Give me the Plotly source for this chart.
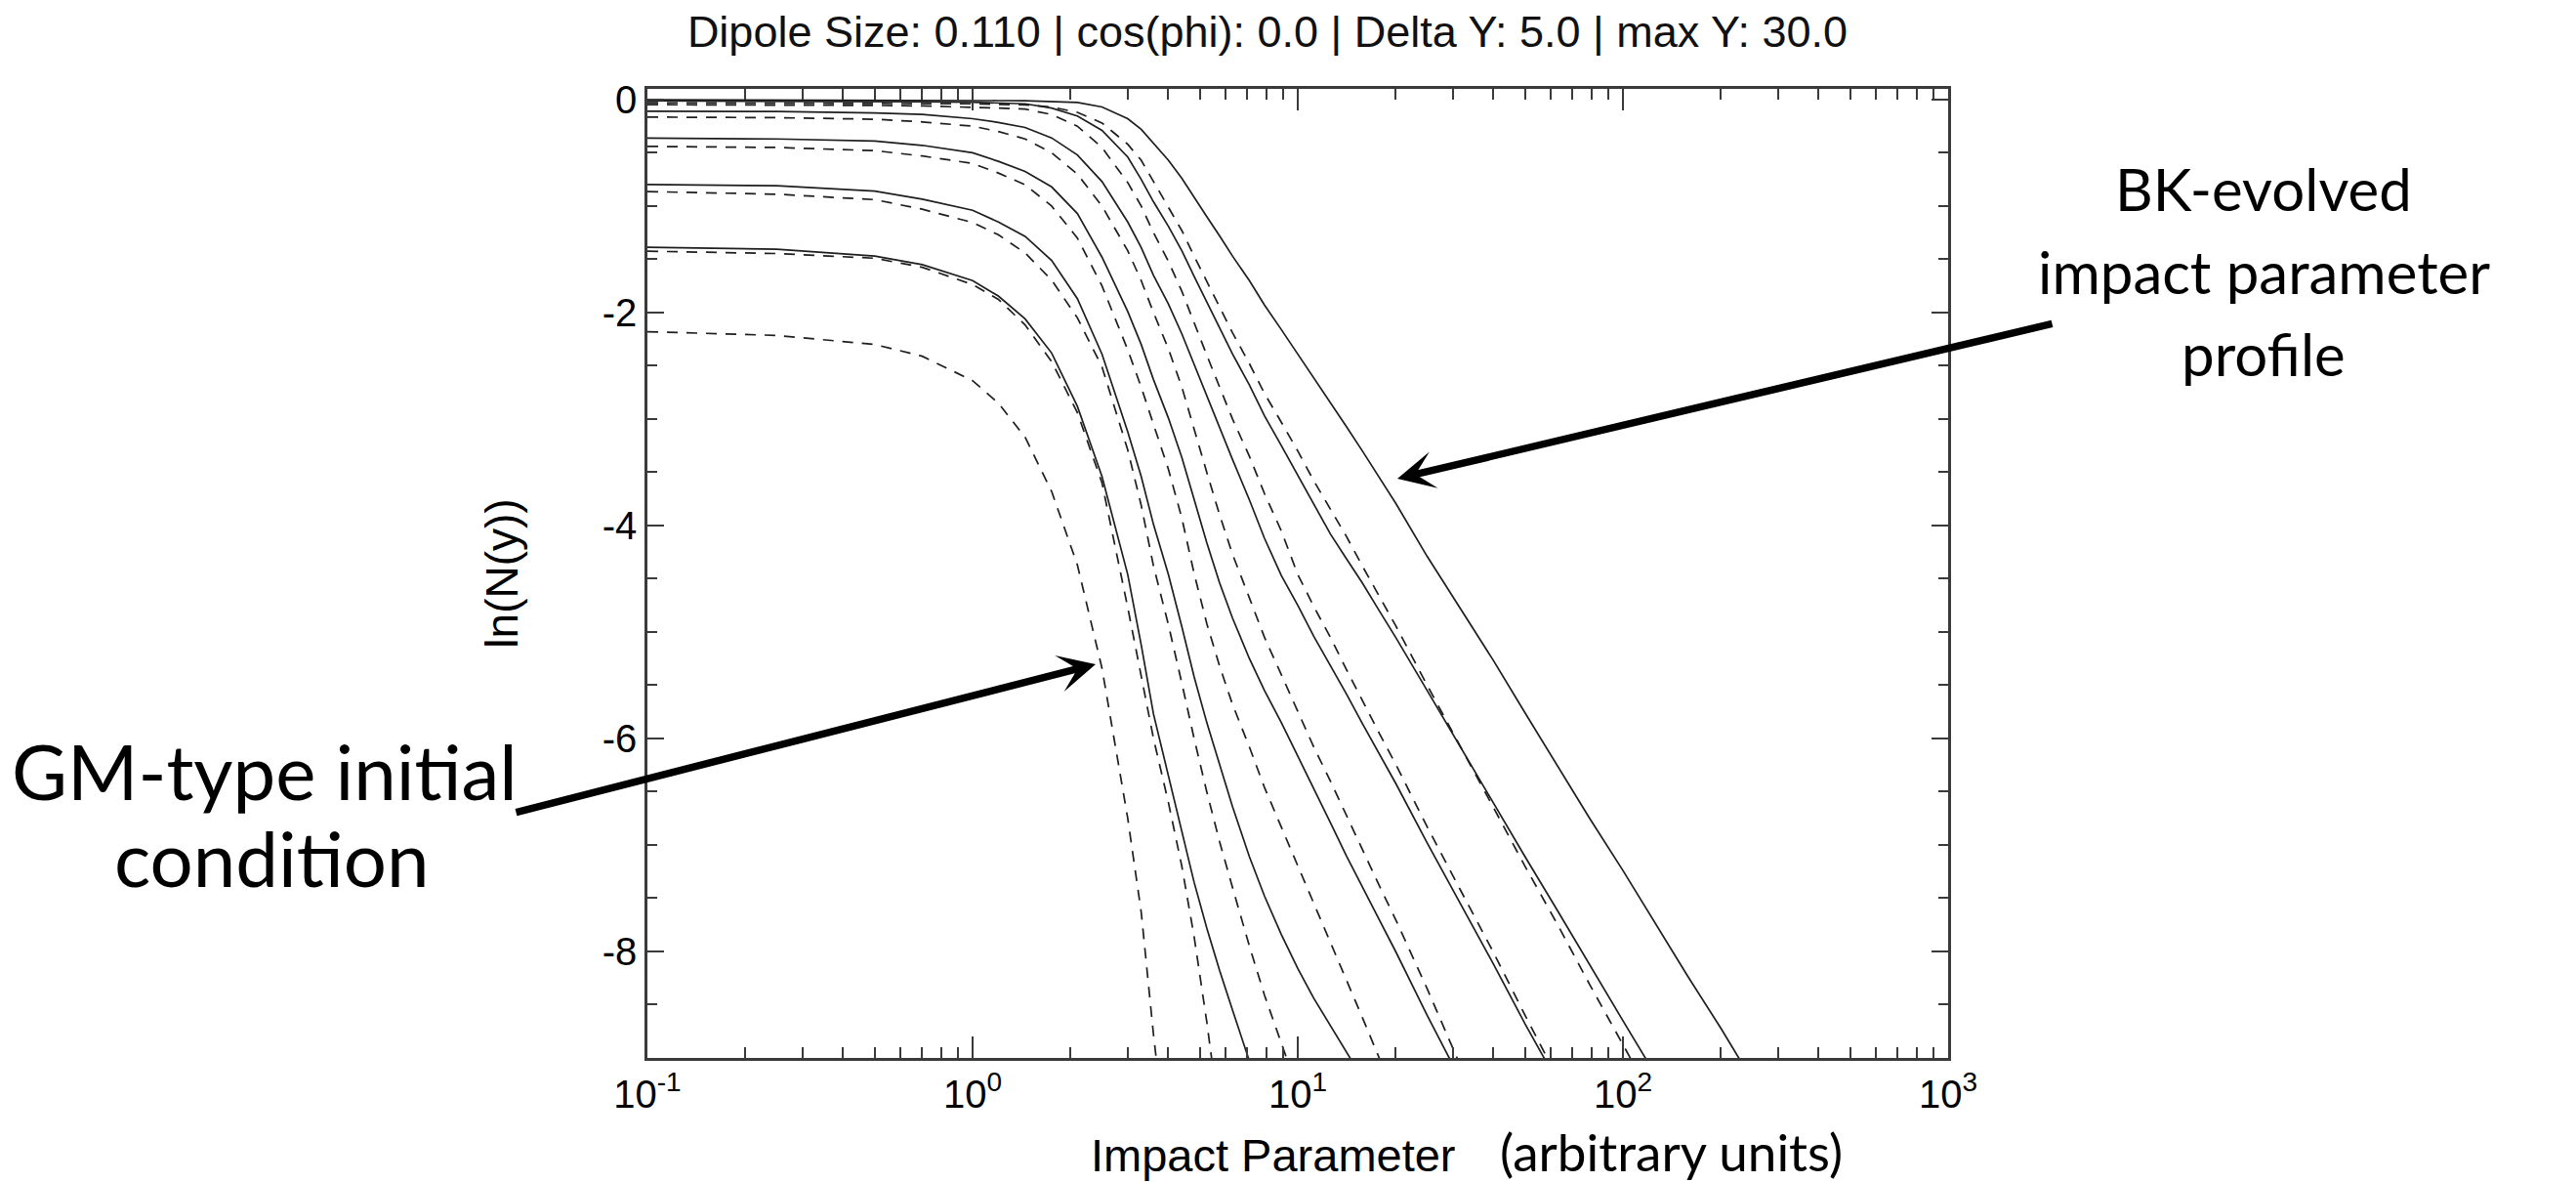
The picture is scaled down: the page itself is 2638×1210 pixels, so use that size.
import plotly.graph_objects as go

# ---------------- data ----------------
# impact parameter grid (arbitrary units)
b = [0.1, 0.25, 0.5, 0.7, 1.0, 1.2, 1.45, 1.75, 2.1, 2.5, 3.0, 3.3, 3.6, 4.0, 4.4,
     4.8, 5.25, 5.75, 6.3, 7.1, 7.9, 8.9, 10, 11.2, 12.6, 14.1, 15.8, 17.8, 20, 25,
     31.6, 40, 50, 63, 79, 100, 126, 158, 200, 251]

# ln(N(y)) - dashed family (Y = 0 ... 30), Y=0 is the GM-type initial condition
dash_y0 = [-2.18, -2.215, -2.30, -2.41, -2.64, -2.85, -3.17, -3.68, -4.37, -5.34, -6.75, -7.63, -8.78, -10.0]
dash_y5 = [-1.424, -1.446, -1.49, -1.575, -1.737, -1.876, -2.116, -2.46, -2.94, -3.60, -4.77, -5.4, -6.0, -6.6,
           -7.2, -7.86, -8.66, -9.57]
dash_y10 = [-0.864, -0.889, -0.94, -1.03, -1.155, -1.27, -1.44, -1.695, -2.05, -2.51, -3.29, -3.81, -4.38, -4.93,
            -5.48, -6.0, -6.5, -6.97, -7.4, -7.95, -8.41, -8.85, -9.3]
dash_y15 = [-0.44, -0.45, -0.48, -0.53, -0.60, -0.69, -0.80, -1.0, -1.3, -1.75, -2.35, -2.7, -3.05, -3.47, -3.93,
            -4.45, -4.92, -5.32, -5.68, -6.08, -6.46, -6.83, -7.2, -7.55, -7.9, -8.25, -8.62, -9.0, -9.38]
dash_y20 = [-0.165, -0.17, -0.185, -0.21, -0.25, -0.30, -0.37, -0.5, -0.7, -1.0, -1.42, -1.7, -2.0, -2.34, -2.7,
            -3.1, -3.5, -3.9, -4.27, -4.68, -5.05, -5.4, -5.75, -6.08, -6.4, -6.72, -7.05, -7.38, -7.7, -8.35, -9.07]
dash_y25 = [-0.048, -0.05, -0.055, -0.06, -0.07, -0.08, -0.09, -0.14, -0.25, -0.45, -0.78, -1.0, -1.25, -1.52, -1.8,
            -2.1, -2.4, -2.7, -3.0, -3.35, -3.7, -4.05, -4.46, -4.76, -5.05, -5.35, -5.65, -5.95, -6.24, -6.83,
            -7.42, -8.01, -8.6, -9.19]
dash_y30 = [-0.03, -0.032, -0.035, -0.037, -0.04, -0.045, -0.05, -0.07, -0.12, -0.22, -0.42, -0.57, -0.77, -1.0,
            -1.23, -1.47, -1.71, -1.96, -2.19, -2.48, -2.76, -3.03, -3.3, -3.58, -3.84, -4.1, -4.38, -4.66, -4.94,
            -5.5, -6.08, -6.65, -7.2, -7.75, -8.31, -8.87, -9.43]

# ln(N(y)) - solid family (Y = 5 ... 30)
solid_y5 = [-1.387, -1.405, -1.47, -1.55, -1.70, -1.845, -2.06, -2.38, -2.88, -3.54, -4.46, -5.12, -5.77, -6.35,
            -6.87, -7.35, -7.78, -8.18, -8.55, -9.03]
solid_y10 = [-0.797, -0.81, -0.86, -0.935, -1.04, -1.15, -1.285, -1.51, -1.87, -2.39, -3.12, -3.54, -3.99, -4.46,
             -4.95, -5.42, -5.85, -6.25, -6.64, -7.11, -7.48, -7.84, -8.16, -8.44, -8.70, -8.94, -9.19]
solid_y15 = [-0.363, -0.37, -0.39, -0.43, -0.50, -0.58, -0.675, -0.82, -1.07, -1.48, -1.99, -2.3, -2.63, -2.99,
             -3.36, -3.76, -4.16, -4.54, -4.87, -5.25, -5.55, -5.85, -6.16, -6.47, -6.79, -7.1, -7.4, -7.7, -8.0,
             -8.6, -9.2]
solid_y20 = [-0.11, -0.113, -0.125, -0.14, -0.18, -0.215, -0.262, -0.36, -0.52, -0.77, -1.15, -1.39, -1.65, -1.92,
             -2.2, -2.49, -2.78, -3.08, -3.38, -3.76, -4.12, -4.47, -4.75, -5.04, -5.31, -5.58, -5.86, -6.14, -6.42,
             -6.98, -7.55, -8.12, -8.68, -9.23]
solid_y25 = [-0.012, -0.014, -0.018, -0.021, -0.025, -0.032, -0.04, -0.08, -0.155, -0.29, -0.54, -0.75, -0.96,
             -1.19, -1.42, -1.66, -1.9, -2.15, -2.39, -2.68, -2.97, -3.25, -3.53, -3.81, -4.08, -4.31, -4.54, -4.8,
             -5.05, -5.55, -6.08, -6.6, -7.11, -7.62, -8.13, -8.65, -9.16]
solid_y30 = [-0.002, -0.003, -0.004, -0.006, -0.008, -0.01, -0.012, -0.017, -0.028, -0.07, -0.18, -0.28, -0.41,
             -0.57, -0.74, -0.92, -1.1, -1.28, -1.47, -1.7, -1.93, -2.16, -2.39, -2.61, -2.84, -3.07, -3.3, -3.55,
             -3.79, -4.29, -4.78, -5.27, -5.76, -6.26, -6.75, -7.24, -7.74, -8.23, -8.72, -9.22]

x_tickvals = [0.1, 1, 10, 100, 1000]
x_ticktext = ["10<sup>-1</sup>", "10<sup>0</sup>", "10<sup>1</sup>", "10<sup>2</sup>", "10<sup>3</sup>"]
x_minor = [m * 10.0 ** e for e in (-1, 0, 1, 2) for m in range(2, 10)]
y_tickvals = [0, -2, -4, -6, -8]
y_ticktext = ["0", "-2", "-4", "-6", "-8"]

title_text = "Dipole Size: 0.110 | cos(phi): 0.0 | Delta Y: 5.0 | max Y: 30.0"
x_title = "Impact Parameter"
y_title = "ln(N(y))"

# ---------------- figure ----------------
W, H = 2638, 1210
ML, MR, MT, MB = 663, 643, 91, 127
PW, PH = W - ML - MR, H - MT - MB


def px(xp):
    return (xp - ML) / PW


def py(yp):
    return (H - MB - yp) / PH


LINE = "#1e1e1e"
AX = "#3a3a3a"
fig = go.Figure()

dashed = [dash_y0, dash_y5, dash_y10, dash_y15, dash_y20, dash_y25, dash_y30]
solid = [solid_y5, solid_y10, solid_y15, solid_y20, solid_y25, solid_y30]
for k, ys in enumerate(dashed):
    fig.add_trace(go.Scatter(x=b[:len(ys)], y=ys, mode="lines", name=f"Y={5*k} (dashed)",
                             line=dict(color=LINE, width=1.7, dash="11px,9px")))
for k, ys in enumerate(solid):
    fig.add_trace(go.Scatter(x=b[:len(ys)], y=ys, mode="lines", name=f"Y={5*(k+1)}",
                             line=dict(color=LINE, width=1.7)))

font_main = "Liberation Sans, Arial, Helvetica, sans-serif"
font_note = "Lato, Open Sans, sans-serif"

fig.update_layout(
    width=W, height=H, autosize=False,
    margin=dict(l=ML, r=MR, t=MT, b=MB),
    paper_bgcolor="white", plot_bgcolor="white",
    showlegend=False,
    font=dict(family=font_main, color="black", size=40),
    title=dict(text=title_text, x=1298 / W, xref="container", xanchor="center",
               y=1 - 32 / H, yref="container", yanchor="middle",
               font=dict(family=font_main, size=45, color="#111")),
)
fig.update_xaxes(
    type="log", range=[-1, 3],
    tickvals=x_tickvals, ticktext=x_ticktext,
    ticks="inside", ticklen=22, tickwidth=2, tickcolor=AX,
    showline=True, linecolor=AX, linewidth=2.5, mirror="allticks",
    showgrid=False, zeroline=False,
    tickfont=dict(size=40, family=font_main),
    minor=dict(tickvals=x_minor, ticks="inside", ticklen=11, tickwidth=2, tickcolor=AX, showgrid=False),
)
fig.update_yaxes(
    range=[-9, 0.1],
    tickvals=y_tickvals, ticktext=y_ticktext,
    ticks="inside", ticklen=17, tickwidth=2, tickcolor=AX,
    showline=True, linecolor=AX, linewidth=2.5, mirror="allticks",
    showgrid=False, zeroline=False,
    tickfont=dict(size=40, family=font_main),
    minor=dict(dtick=0.5, ticks="inside", ticklen=10, tickwidth=2, tickcolor=AX, showgrid=False),
    title=dict(text=y_title, font=dict(size=46, family=font_main), standoff=72),
)

# x-axis title (placed slightly left of centre, as in the reference)
fig.add_annotation(text=x_title, xref="paper", yref="paper", x=px(1304), y=py(1182),
                   xanchor="center", yanchor="middle", showarrow=False,
                   font=dict(family=font_main, size=47, color="black"))

notes = [
    ("GM-type initial", 271, 789, 78),
    ("condition", 278, 878, 78),
    ("BK-evolved", 2318, 193, 60),
    ("impact parameter", 2318, 278, 60),
    ("profile", 2318, 362, 60),
    ("(arbitrary units)", 1711, 1178, 53),
]
for txt, xp, yp, fs in notes:
    fig.add_annotation(text=txt, xref="paper", yref="paper", x=px(xp), y=py(yp),
                       xanchor="center", yanchor="middle", showarrow=False,
                       font=dict(family=font_note, size=fs, color="black"))

arrows = [
    ((1431, 490), (2103, 331)),   # BK arrow: tip, tail
    ((1122, 680), (527, 832)),    # GM arrow: tip, tail
]
for (tx, ty), (sx, sy) in arrows:
    fig.add_annotation(text="", xref="paper", yref="paper", x=px(tx), y=py(ty),
                       ax=sx - tx, ay=sy - ty, axref="pixel", ayref="pixel",
                       showarrow=True, arrowhead=3, arrowsize=0.85, arrowwidth=7.5,
                       arrowcolor="black", standoff=0)

fig.write_html("out.html", config={"displayModeBar": False})
